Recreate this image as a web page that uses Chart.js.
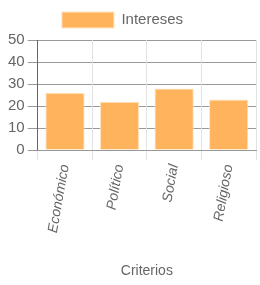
<!DOCTYPE html>
<html><head><meta charset="utf-8">
<script src="https://cdn.jsdelivr.net/npm/chart.js@4"></script>
<style>html,body{margin:0;padding:0;background:#fff}#w{width:260px;height:285px}</style>
</head><body><div id="w"><canvas id="c"></canvas></div>
<script>
const categories = ["Económico", "Político", "Social", "Religioso"];
const seriesName = "Intereses";
const values = [26, 22, 28, 23];
const yTicks = [0, 10, 20, 30, 40, 50];
const xTitle = "Criterios";

const legendShift = {
  id: 'legendShift',
  afterLayout(chart) {
    const l = chart.legend;
    if (l) { l.right -= 16; l.top -= 2; l.bottom -= 2; }
  }
};

new Chart(document.getElementById('c'), {
  type: 'bar',
  data: {
    labels: categories,
    datasets: [{
      label: seriesName,
      data: values,
      backgroundColor: '#ffb35c',
      borderColor: '#ffe3c0',
      borderWidth: 1
    }]
  },
  plugins: [legendShift],
  options: {
    responsive: true,
    maintainAspectRatio: false,
    animation: false,
    layout: { padding: { left: 5, right: 4, top: 4, bottom: 1 } },
    plugins: {
      legend: {
        labels: { boxWidth: 52, boxHeight: 16, color: '#666', font: { family: 'Arial, Liberation Sans', size: 15 } }
      },
      tooltip: { enabled: false }
    },
    scales: {
      y: {
        min: 0, max: 50,
        afterBuildTicks: (s) => { s.ticks = yTicks.map(v => ({ value: v })); },
        ticks: { color: '#666', padding: 3, font: { family: 'Arial, Liberation Sans', size: 15 } },
        grid: { color: '#999', tickLength: 10 },
        border: { color: '#666' }
      },
      x: {
        ticks: { color: '#666', minRotation: 80, maxRotation: 80, font: { family: 'Arial, Liberation Sans', size: 14, style: 'italic' } },
        grid: { color: '#e2e2e2', tickLength: 10 },
        border: { color: '#999' },
        title: { display: true, text: xTitle, color: '#666', padding: { top: 26 }, font: { family: 'Arial, Liberation Sans', size: 14 } }
      }
    }
  }
});
</script></body></html>
